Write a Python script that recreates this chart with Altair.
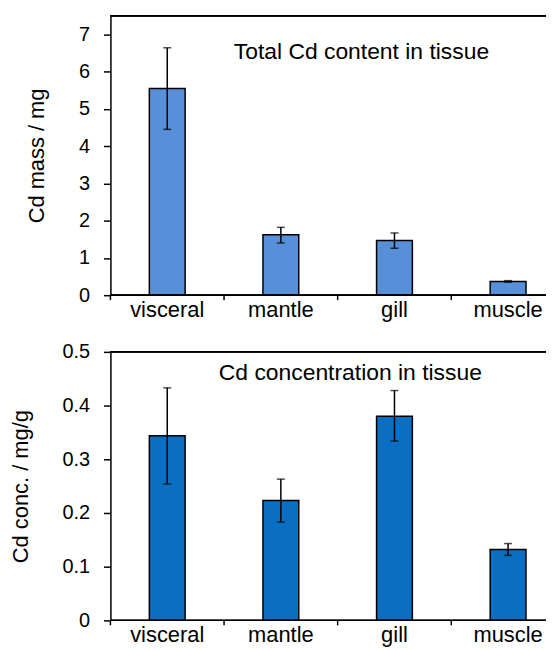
import altair as alt
import pandas as pd

tissues = ["visceral", "mantle", "gill", "muscle"]

mass = [5.55, 1.62, 1.47, 0.37]
mass_low = [4.45, 1.40, 1.26, 0.35]
mass_high = [6.64, 1.82, 1.67, 0.39]
mass_ticks = [0, 1, 2, 3, 4, 5, 6, 7]

conc = [0.344, 0.223, 0.380, 0.132]
conc_low = [0.254, 0.183, 0.334, 0.121]
conc_high = [0.433, 0.263, 0.428, 0.143]
conc_ticks = [0, 0.1, 0.2, 0.3, 0.4, 0.5]

titles = ["Total Cd content in tissue", "Cd concentration in tissue"]

FONT = "Liberation Sans"
W = 438       # visible plot width
SPAN = 457    # width spanned by the four category bands (continues past the crop)


def panel(values, lows, highs, color, ytitle, ydomain, yticks, title_text,
          title_dx, title_base, title_pad, height):
    df = pd.DataFrame({"tissue": tissues, "value": values,
                       "low": lows, "high": highs})
    xscale = alt.Scale(paddingInner=0, paddingOuter=0, range=[0, SPAN])
    x = alt.X("tissue:N", sort=tissues, scale=xscale, axis=None)
    y = alt.Y("value:Q",
              scale=alt.Scale(domain=ydomain, nice=False, zero=True),
              axis=alt.Axis(title=ytitle, values=yticks, format="~g",
                            grid=False, tickSize=7, labelPadding=14,
                            labelFontSize=20, titleFontSize=22,
                            titlePadding=title_pad))
    base = alt.Chart(df)
    xs = alt.X("tissue:N", sort=tissues)
    bars = base.mark_bar(size=36, color=color, stroke="black",
                         strokeWidth=1.5).encode(x=x, y=y)
    rule = base.mark_rule(color="black", strokeWidth=1.5).encode(
        x=xs, y="low:Q", y2="high:Q")
    cap_hi = base.mark_tick(color="black", size=8, thickness=1.5).encode(
        x=xs, y="high:Q")
    cap_lo = base.mark_tick(color="black", size=8, thickness=1.5).encode(
        x=xs, y="low:Q")
    seps = base.mark_rule(color="black", strokeWidth=1.5).encode(
        x=alt.X("tissue:N", sort=tissues, bandPosition=0),
        y=alt.value(height), y2=alt.value(height + 5))
    labels = base.mark_text(font=FONT, fontSize=22, baseline="top",
                            color="black").encode(
        x=xs, y=alt.value(height + 5), text="tissue:N")
    frame_top = base.mark_rule(color="black", strokeWidth=1.5).encode(
        x=alt.value(0), x2=alt.value(W), y=alt.value(0))
    frame_bottom = base.mark_rule(color="black", strokeWidth=1.5).encode(
        x=alt.value(0), x2=alt.value(W), y=alt.value(height))
    heading = alt.Chart(pd.DataFrame({"t": [title_text]})).mark_text(
        font=FONT, fontSize=23, align="left", baseline="alphabetic",
        color="black").encode(
        text="t:N", x=alt.value(title_dx), y=alt.value(title_base))
    return alt.layer(bars, rule, cap_hi, cap_lo, seps, labels, frame_top,
                     frame_bottom, heading).properties(width=W, height=height)


top = panel(mass, mass_low, mass_high, "#5790D8", "Cd mass / mg",
            [0, 7.5], mass_ticks, titles[0], 124, 43, 30, 281)
bottom = panel(conc, conc_low, conc_high, "#0A6FC2", "Cd conc. / mg/g",
               [0, 0.5], conc_ticks, titles[1], 109, 28, 30, 270)

chart = alt.vconcat(top, bottom, spacing=21).properties(
    padding={"left": 1, "top": 5, "right": 0, "bottom": 0}
).configure_view(
    stroke=None
).configure_axis(
    domainColor="black", tickColor="black", labelColor="black",
    titleColor="black", labelFont=FONT, titleFont=FONT,
    domainWidth=1.5, tickWidth=1.5, titleFontWeight="normal"
)

chart.save("out.html", embed_options={"renderer": "svg", "actions": False})
